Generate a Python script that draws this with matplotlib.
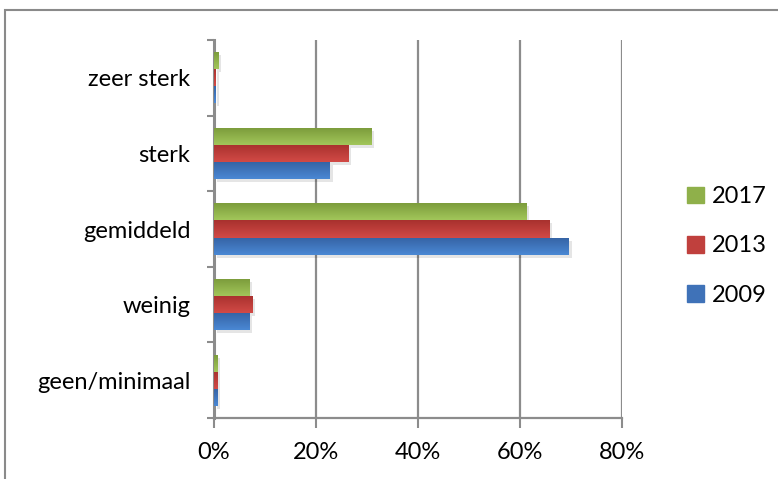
import matplotlib
matplotlib.use("Agg")
import matplotlib.pyplot as plt
import numpy as np
from matplotlib.patches import Rectangle
from matplotlib.ticker import FixedLocator, FuncFormatter
import matplotlib.transforms as mtransforms
from matplotlib.colors import to_rgb

categories = ["geen/minimaal", "weinig", "gemiddeld", "sterk", "zeer sterk"]
years = ["2009", "2013", "2017"]
v2009 = [0.6, 6.9, 69.6, 22.7, 0.3]
v2013 = [0.6, 7.5, 65.7, 26.3, 0.3]
v2017 = [0.6, 6.9, 61.2, 30.8, 0.8]
series = [v2009, v2013, v2017]
colors_top = ["#4a88d4", "#d24a46", "#a2c65a"]
colors_bot = ["#3562a3", "#a8312e", "#7a9a3a"]
legend_colors = ["#3f72b8", "#c0403d", "#8fb04a"]
xticks = [0, 20, 40, 60, 80]

plt.rcParams['font.family'] = ['Lato', 'DejaVu Sans']
FS = 17

fig = plt.figure(figsize=(7.78, 4.79), dpi=100)
W, H = 778, 479
ax = fig.add_axes([214 / W, 1 - 418 / H, (622 - 214) / W, (418 - 40) / H])

y = np.arange(len(categories))
bh = 0.225
offsets = [-bh, 0, bh]
for i, vals in enumerate(series):
    bars = ax.barh(y + offsets[i], vals, height=bh, color=legend_colors[i], zorder=3)
    for b in bars:
        sh = Rectangle(b.get_xy(), b.get_width(), b.get_height(), facecolor="#000000",
                       alpha=0.10, edgecolor="none", zorder=2,
                       transform=ax.transData + mtransforms.ScaledTranslation(3 / 100, -3 / 100, fig.dpi_scale_trans))
        ax.add_patch(sh)
    grad = np.linspace(0, 1, 64).reshape(-1, 1)
    c1 = np.array(to_rgb(colors_top[i]))
    c2 = np.array(to_rgb(colors_bot[i]))
    img = c1[None, None, :] * (1 - grad[:, :, None]) + c2[None, None, :] * grad[:, :, None]
    for b in bars:
        x0, y0 = b.get_xy()
        im = ax.imshow(img, extent=[x0, x0 + b.get_width(), y0 + b.get_height(), y0],
                       aspect="auto", zorder=4, interpolation="bilinear")
        im.set_clip_path(b)

ax.set_xlim(0, 80)
ax.set_ylim(-0.5, len(categories) - 0.5)
ax.set_xticks(xticks)
ax.xaxis.set_major_formatter(FuncFormatter(lambda v, p: f"{int(v)}%"))
ax.grid(axis="x", color="#8c8c8c", linewidth=1.6, zorder=0)
ax.set_axisbelow(True)

ax.yaxis.set_major_locator(FixedLocator(np.arange(-0.5, len(categories), 1.0)))
ax.yaxis.set_major_formatter(FuncFormatter(lambda v, p: ""))
ax.yaxis.set_minor_locator(FixedLocator(y))
ax.set_yticks(y, minor=True)
ax.set_yticklabels(categories, minor=True)
ax.tick_params(axis="y", which="minor", length=0, pad=17, labelsize=FS)
ax.tick_params(axis="y", which="major", length=5, width=1.5, color="#8c8c8c")
ax.tick_params(axis="x", length=7, width=1.5, color="#8c8c8c", pad=10, labelsize=FS)

for s in ["top", "right"]:
    ax.spines[s].set_visible(False)
ax.spines["left"].set_color("#8c8c8c")
ax.spines["left"].set_linewidth(2.2)
ax.spines["bottom"].set_color("#8c8c8c")
ax.spines["bottom"].set_linewidth(1.6)

handles = [Rectangle((0, 0), 1, 1, color=legend_colors[i]) for i in [2, 1, 0]]
labels = [years[i] for i in [2, 1, 0]]
fig.legend(handles, labels, loc="center left", bbox_to_anchor=(687 / W, 1 - 246 / H),
           frameon=False, fontsize=FS, handlelength=0.7, handleheight=0.7,
           labelspacing=1.2, handletextpad=0.35, borderpad=0, borderaxespad=0)

border = Rectangle((5 / W, -0.2), 1.2, 1.2 - 10 / H, transform=fig.transFigure,
                   fill=False, edgecolor="#8a8a8a", linewidth=1.5)
fig.patches.append(border)

fig.savefig("out.png", dpi=100)
